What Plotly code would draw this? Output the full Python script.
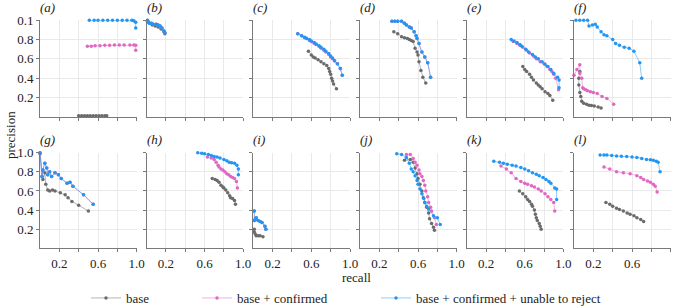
import plotly.graph_objects as go

# ---------------- data (recall, precision) ----------------
panel_labels = ["(a)", "(b)", "(c)", "(d)", "(e)", "(f)", "(g)", "(h)", "(i)", "(j)", "(k)", "(l)"]
series_names = ["base", "base + confirmed", "base + confirmed + unable to reject"]
x_tick_vals = [0.2, 0.4, 0.6, 0.8, 1.0]
x_tick_text = ["0.2", "", "0.6", "", "1.0"]
y_tick_vals = [0.2, 0.4, 0.6, 0.8, 1.0]
y_tick_text_top = ["0.2", "0.4", "0.6", "0.8", "0.1"]
y_tick_text_bottom = ["0.2", "0.4", "0.6", "0.8", "1.0"]

a_base_r = [0.40, 0.43, 0.46, 0.49, 0.52, 0.55, 0.58, 0.61, 0.64, 0.67, 0.69]
a_base_p = [0.01, 0.01, 0.01, 0.01, 0.01, 0.01, 0.01, 0.01, 0.01, 0.01, 0.01]
a_conf_r = [0.49, 0.53, 0.57, 0.62, 0.67, 0.72, 0.77, 0.82, 0.87, 0.93, 0.97, 0.99, 0.99]
a_conf_p = [0.73, 0.73, 0.735, 0.735, 0.74, 0.74, 0.745, 0.745, 0.745, 0.745, 0.745, 0.74, 0.69]
a_unab_r = [0.51, 0.56, 0.60, 0.65, 0.70, 0.75, 0.80, 0.85, 0.90, 0.95, 0.97, 0.99, 0.99]
a_unab_p = [1.0, 1.0, 1.0, 1.0, 1.0, 1.0, 1.0, 1.0, 1.0, 1.0, 0.995, 0.98, 0.92]

b_base_r = [0.01, 0.03, 0.06, 0.09, 0.12, 0.15, 0.18, 0.19]
b_base_p = [0.99, 0.97, 0.95, 0.94, 0.93, 0.91, 0.88, 0.86]
b_conf_r = [0.01, 0.02, 0.03, 0.05, 0.07, 0.10, 0.12, 0.14, 0.16, 0.18, 0.19]
b_conf_p = [1.0, 0.98, 0.97, 0.97, 0.96, 0.96, 0.95, 0.94, 0.92, 0.89, 0.87]
b_unab_r = [0.01, 0.02, 0.03, 0.05, 0.07, 0.10, 0.12, 0.14, 0.16, 0.18, 0.19]
b_unab_p = [1.0, 0.98, 0.97, 0.97, 0.96, 0.96, 0.95, 0.94, 0.92, 0.89, 0.87]

c_base_r = [0.57, 0.60, 0.62, 0.64, 0.67, 0.70, 0.73, 0.76, 0.78, 0.79, 0.80, 0.81, 0.82, 0.83, 0.86]
c_base_p = [0.68, 0.64, 0.62, 0.61, 0.59, 0.57, 0.55, 0.53, 0.50, 0.47, 0.44, 0.40, 0.37, 0.34, 0.29]
c_conf_r = [0.46, 0.50, 0.53, 0.55, 0.58, 0.60, 0.63, 0.65, 0.68, 0.70, 0.73, 0.75, 0.78, 0.80, 0.82, 0.84, 0.87, 0.90, 0.92]
c_conf_p = [0.86, 0.84, 0.82, 0.81, 0.79, 0.78, 0.76, 0.75, 0.73, 0.71, 0.69, 0.67, 0.645, 0.62, 0.60, 0.58, 0.55, 0.50, 0.43]
c_unab_r = [0.46, 0.50, 0.53, 0.55, 0.58, 0.60, 0.63, 0.65, 0.68, 0.70, 0.73, 0.75, 0.78, 0.80, 0.82, 0.84, 0.87, 0.90, 0.92]
c_unab_p = [0.86, 0.84, 0.825, 0.815, 0.80, 0.785, 0.77, 0.755, 0.735, 0.72, 0.70, 0.68, 0.655, 0.63, 0.61, 0.58, 0.55, 0.50, 0.43]

d_base_r = [0.35, 0.39, 0.43, 0.46, 0.49, 0.51, 0.53, 0.55, 0.57, 0.59, 0.60, 0.61, 0.63, 0.65, 0.68]
d_base_p = [0.88, 0.86, 0.83, 0.82, 0.81, 0.80, 0.79, 0.78, 0.71, 0.67, 0.64, 0.57, 0.48, 0.41, 0.35]
d_conf_r = [0.33, 0.36, 0.39, 0.43, 0.46, 0.48, 0.51, 0.53, 0.56, 0.58, 0.59, 0.61, 0.64, 0.67, 0.70, 0.73]
d_conf_p = [0.99, 0.99, 0.99, 0.99, 0.97, 0.95, 0.93, 0.92, 0.88, 0.84, 0.81, 0.76, 0.67, 0.62, 0.56, 0.41]
d_unab_r = [0.33, 0.36, 0.39, 0.43, 0.46, 0.48, 0.51, 0.53, 0.56, 0.58, 0.59, 0.61, 0.64, 0.67, 0.70, 0.73]
d_unab_p = [0.99, 0.99, 0.99, 0.99, 0.97, 0.95, 0.93, 0.92, 0.88, 0.84, 0.81, 0.76, 0.67, 0.62, 0.56, 0.41]

e_base_r = [0.58, 0.60, 0.62, 0.65, 0.67, 0.69, 0.72, 0.74, 0.76, 0.78, 0.81, 0.84, 0.86, 0.89]
e_base_p = [0.52, 0.49, 0.47, 0.44, 0.41, 0.38, 0.35, 0.33, 0.31, 0.29, 0.26, 0.24, 0.22, 0.17]
e_conf_r = [0.48, 0.52, 0.55, 0.58, 0.62, 0.65, 0.69, 0.72, 0.76, 0.80, 0.83, 0.86, 0.88, 0.90, 0.92, 0.95]
e_conf_p = [0.78, 0.76, 0.74, 0.72, 0.69, 0.66, 0.63, 0.60, 0.57, 0.55, 0.52, 0.49, 0.47, 0.44, 0.40, 0.28]
e_unab_r = [0.46, 0.49, 0.52, 0.55, 0.57, 0.61, 0.64, 0.68, 0.71, 0.74, 0.78, 0.81, 0.84, 0.87, 0.90, 0.94, 0.955, 0.955]
e_unab_p = [0.80, 0.785, 0.77, 0.75, 0.73, 0.70, 0.67, 0.645, 0.62, 0.60, 0.57, 0.545, 0.52, 0.49, 0.45, 0.41, 0.38, 0.30]

f_base_r = [0.06, 0.05, 0.05, 0.06, 0.07, 0.08, 0.10, 0.13, 0.155, 0.18, 0.21, 0.25, 0.28]
f_base_p = [0.47, 0.40, 0.33, 0.25, 0.21, 0.16, 0.14, 0.13, 0.12, 0.115, 0.11, 0.10, 0.09]
f_conf_r = [0.0, 0.03, 0.06, 0.06, 0.08, 0.09, 0.10, 0.12, 0.14, 0.17, 0.20, 0.24, 0.29, 0.34, 0.41]
f_conf_p = [0.43, 0.49, 0.54, 0.45, 0.40, 0.30, 0.29, 0.28, 0.27, 0.26, 0.25, 0.24, 0.21, 0.19, 0.13]
f_unab_r = [0.02, 0.06, 0.10, 0.14, 0.155, 0.19, 0.22, 0.24, 0.28, 0.31, 0.34, 0.40, 0.43, 0.47, 0.52, 0.57, 0.62, 0.68, 0.70]
f_unab_p = [1.0, 1.0, 1.0, 1.0, 0.94, 0.95, 0.96, 0.93, 0.88, 0.85, 0.84, 0.80, 0.76, 0.74, 0.72, 0.71, 0.68, 0.56, 0.40]

g_base_r = [0.0, 0.03, 0.05, 0.06, 0.08, 0.10, 0.13, 0.155, 0.21, 0.26, 0.29, 0.33, 0.40, 0.50]
g_base_p = [0.99, 0.72, 0.79, 0.67, 0.61, 0.60, 0.61, 0.60, 0.58, 0.56, 0.53, 0.49, 0.45, 0.39]
g_conf_r = [0.0, 0.02, 0.03, 0.05, 0.07, 0.08, 0.10, 0.12, 0.155, 0.19, 0.22, 0.28, 0.31, 0.34, 0.45, 0.55]
g_conf_p = [1.0, 0.75, 0.82, 0.89, 0.84, 0.77, 0.80, 0.75, 0.79, 0.77, 0.73, 0.68, 0.69, 0.65, 0.56, 0.46]
g_unab_r = [0.0, 0.02, 0.03, 0.05, 0.07, 0.08, 0.10, 0.12, 0.155, 0.19, 0.22, 0.28, 0.31, 0.34, 0.45, 0.55]
g_unab_p = [1.0, 0.75, 0.82, 0.89, 0.84, 0.77, 0.80, 0.75, 0.79, 0.77, 0.73, 0.68, 0.69, 0.65, 0.56, 0.46]

h_base_r = [0.68, 0.71, 0.73, 0.75, 0.77, 0.79, 0.80, 0.82, 0.84, 0.86, 0.87, 0.89, 0.91, 0.92]
h_base_p = [0.73, 0.72, 0.71, 0.69, 0.66, 0.64, 0.63, 0.61, 0.58, 0.55, 0.53, 0.52, 0.50, 0.46]
h_conf_r = [0.63, 0.67, 0.70, 0.72, 0.74, 0.75, 0.77, 0.79, 0.81, 0.83, 0.85, 0.87, 0.89, 0.91, 0.93, 0.94]
h_conf_p = [0.955, 0.945, 0.93, 0.90, 0.87, 0.85, 0.83, 0.82, 0.80, 0.78, 0.77, 0.75, 0.74, 0.73, 0.70, 0.63]
h_unab_r = [0.53, 0.57, 0.60, 0.64, 0.67, 0.70, 0.73, 0.76, 0.80, 0.83, 0.855, 0.88, 0.91, 0.935, 0.95, 0.95]
h_unab_p = [1.0, 0.995, 0.99, 0.98, 0.97, 0.96, 0.955, 0.945, 0.93, 0.915, 0.90, 0.895, 0.89, 0.87, 0.83, 0.77]

i_base_r = [0.01, 0.01, 0.02, 0.03, 0.05, 0.07, 0.10]
i_base_p = [0.20, 0.17, 0.15, 0.13, 0.13, 0.13, 0.12]
i_conf_r = [0.01, 0.01, 0.02, 0.03, 0.05, 0.07, 0.09, 0.12, 0.13]
i_conf_p = [0.39, 0.29, 0.30, 0.32, 0.29, 0.28, 0.27, 0.23, 0.20]
i_unab_r = [0.01, 0.01, 0.02, 0.03, 0.05, 0.07, 0.09, 0.12, 0.13]
i_unab_p = [0.39, 0.29, 0.30, 0.32, 0.29, 0.28, 0.27, 0.23, 0.20]

j_base_r = [0.46, 0.52, 0.55, 0.57, 0.59, 0.60, 0.62, 0.64, 0.655, 0.67, 0.69, 0.71, 0.72, 0.74, 0.76, 0.77]
j_base_p = [0.92, 0.93, 0.90, 0.84, 0.78, 0.73, 0.67, 0.60, 0.53, 0.48, 0.43, 0.37, 0.31, 0.26, 0.22, 0.19]
j_conf_r = [0.48, 0.52, 0.55, 0.57, 0.59, 0.61, 0.62, 0.64, 0.655, 0.67, 0.68, 0.70, 0.71, 0.73, 0.74, 0.77, 0.79]
j_conf_p = [0.98, 0.98, 0.94, 0.90, 0.87, 0.82, 0.78, 0.75, 0.71, 0.66, 0.60, 0.54, 0.48, 0.43, 0.39, 0.32, 0.25]
j_unab_r = [0.38, 0.43, 0.48, 0.51, 0.53, 0.55, 0.57, 0.59, 0.60, 0.62, 0.64, 0.66, 0.67, 0.69, 0.71, 0.76, 0.80, 0.83]
j_unab_p = [0.99, 0.98, 0.95, 0.89, 0.83, 0.80, 0.76, 0.71, 0.67, 0.62, 0.57, 0.52, 0.48, 0.44, 0.41, 0.34, 0.32, 0.25]

k_base_r = [0.545, 0.58, 0.61, 0.63, 0.65, 0.67, 0.68, 0.70, 0.71, 0.72, 0.73, 0.75, 0.76, 0.77]
k_base_p = [0.60, 0.57, 0.54, 0.51, 0.49, 0.46, 0.44, 0.40, 0.355, 0.32, 0.29, 0.26, 0.23, 0.20]
k_conf_r = [0.355, 0.41, 0.46, 0.51, 0.56, 0.60, 0.63, 0.67, 0.70, 0.74, 0.77, 0.81, 0.84, 0.87, 0.90, 0.91]
k_conf_p = [0.86, 0.83, 0.79, 0.73, 0.70, 0.68, 0.67, 0.655, 0.64, 0.62, 0.60, 0.57, 0.54, 0.51, 0.48, 0.39]
k_unab_r = [0.28, 0.34, 0.38, 0.42, 0.47, 0.51, 0.56, 0.60, 0.64, 0.68, 0.72, 0.75, 0.79, 0.82, 0.85, 0.87, 0.91, 0.93, 0.93]
k_unab_p = [0.91, 0.90, 0.89, 0.88, 0.87, 0.86, 0.845, 0.83, 0.81, 0.79, 0.775, 0.76, 0.74, 0.72, 0.70, 0.68, 0.63, 0.62, 0.51]

l_base_r = [0.33, 0.37, 0.40, 0.44, 0.47, 0.51, 0.55, 0.58, 0.62, 0.65, 0.69, 0.72]
l_base_p = [0.48, 0.46, 0.44, 0.42, 0.405, 0.39, 0.37, 0.355, 0.34, 0.32, 0.30, 0.28]
l_conf_r = [0.31, 0.37, 0.44, 0.51, 0.58, 0.65, 0.69, 0.72, 0.76, 0.79, 0.82, 0.84, 0.86]
l_conf_p = [0.85, 0.83, 0.80, 0.79, 0.78, 0.76, 0.74, 0.72, 0.705, 0.69, 0.67, 0.65, 0.59]
l_unab_r = [0.27, 0.31, 0.34, 0.39, 0.44, 0.49, 0.545, 0.60, 0.65, 0.70, 0.75, 0.79, 0.82, 0.85, 0.87, 0.89]
l_unab_p = [0.976, 0.976, 0.975, 0.97, 0.966, 0.963, 0.96, 0.955, 0.95, 0.94, 0.93, 0.925, 0.92, 0.91, 0.90, 0.80]

panels = [
    (a_base_r, a_base_p, a_conf_r, a_conf_p, a_unab_r, a_unab_p),
    (b_base_r, b_base_p, b_conf_r, b_conf_p, b_unab_r, b_unab_p),
    (c_base_r, c_base_p, c_conf_r, c_conf_p, c_unab_r, c_unab_p),
    (d_base_r, d_base_p, d_conf_r, d_conf_p, d_unab_r, d_unab_p),
    (e_base_r, e_base_p, e_conf_r, e_conf_p, e_unab_r, e_unab_p),
    (f_base_r, f_base_p, f_conf_r, f_conf_p, f_unab_r, f_unab_p),
    (g_base_r, g_base_p, g_conf_r, g_conf_p, g_unab_r, g_unab_p),
    (h_base_r, h_base_p, h_conf_r, h_conf_p, h_unab_r, h_unab_p),
    (i_base_r, i_base_p, i_conf_r, i_conf_p, i_unab_r, i_unab_p),
    (j_base_r, j_base_p, j_conf_r, j_conf_p, j_unab_r, j_unab_p),
    (k_base_r, k_base_p, k_conf_r, k_conf_p, k_unab_r, k_unab_p),
    (l_base_r, l_base_p, l_conf_r, l_conf_p, l_unab_r, l_unab_p),
]

# ---------------- styling / layout ----------------
W, H = 678, 308
marker_colors = ["#6b6b6b", "#e067c3", "#2196f3"]
line_colors = ["rgba(107,107,107,0.5)", "rgba(224,103,195,0.5)", "rgba(33,150,243,0.5)"]
legend_ids = ["legend", "legend2", "legend3"]
FONT = "Liberation Serif"
FS = 13

col_left_px = [40, 146.5, 253.3, 360, 466.7, 574]
col_w_px = 96.7
row_y_px = [(20.3, 116.7), (152.7, 248.3)]  # (top of 1.0, bottom at 0)

fig = go.Figure()
layout = dict(
    width=W, height=H,
    margin=dict(l=0, r=0, t=0, b=0, pad=0, autoexpand=False),
    paper_bgcolor="white", plot_bgcolor="white",
    font=dict(family=FONT, size=FS, color="#222"),
    annotations=[],
)

for idx in range(12):
    row, col = divmod(idx, 6)
    n = idx + 1
    xa = "xaxis" if n == 1 else f"xaxis{n}"
    ya = "yaxis" if n == 1 else f"yaxis{n}"
    xref = "x" if n == 1 else f"x{n}"
    yref = "y" if n == 1 else f"y{n}"
    x0 = col_left_px[col] / W
    x1 = (col_left_px[col] + col_w_px) / W
    top, bot = row_y_px[row]
    y0 = 1 - bot / H
    y1 = 1 - top / H
    layout[xa] = dict(
        domain=[x0, x1], anchor=yref, range=[0, 1],
        tickvals=x_tick_vals, ticktext=x_tick_text if row == 1 else [""] * 5,
        showgrid=True, gridcolor="#e9e9e9", gridwidth=1,
        showline=True, linecolor="#7a7a7a", linewidth=1,
        ticks="outside", ticklen=3, tickcolor="#7a7a7a",
        zeroline=False, fixedrange=True, automargin=False,
        tickfont=dict(family=FONT, size=FS, color="#222"),
    )
    layout[ya] = dict(
        domain=[y0, y1], anchor=xref, range=[0, 1],
        tickvals=y_tick_vals,
        ticktext=(y_tick_text_top if row == 0 else y_tick_text_bottom) if col == 0 else [""] * 5,
        showgrid=True, gridcolor="#e9e9e9", gridwidth=1,
        showline=True, linecolor="#7a7a7a", linewidth=1,
        ticks="outside", ticklen=3, tickcolor="#7a7a7a",
        zeroline=False, fixedrange=True, automargin=False,
        tickfont=dict(family=FONT, size=FS, color="#222"),
    )
    layout["annotations"].append(dict(
        text=f"<i>{panel_labels[idx]}</i>", xref="paper", yref="paper",
        x=(col_left_px[col] - 2) / W, y=1 - (top - 13) / H,
        xanchor="left", yanchor="middle", showarrow=False,
        font=dict(family=FONT, size=FS, color="#222"),
    ))
    data = panels[idx]
    for s in range(3):
        fig.add_trace(go.Scatter(
            x=data[2 * s], y=data[2 * s + 1], mode="lines+markers",
            xaxis=xref, yaxis=yref, name=series_names[s],
            line=dict(color=line_colors[s], width=1),
            marker=dict(color=marker_colors[s], size=3.5),
            cliponaxis=False,
            showlegend=(idx == 0), legend=legend_ids[s],
        ))

layout["annotations"].append(dict(
    text="recall", xref="paper", yref="paper", x=356 / W, y=1 - 277 / H,
    xanchor="center", yanchor="middle", showarrow=False,
    font=dict(family=FONT, size=FS, color="#222")))
layout["annotations"].append(dict(
    text="precision", xref="paper", yref="paper", x=10 / W, y=1 - 135 / H,
    xanchor="center", yanchor="middle", showarrow=False, textangle=-90,
    font=dict(family=FONT, size=FS, color="#222")))

leg_x_px = [86, 197, 376]
for s, lid in enumerate(legend_ids):
    layout[lid] = dict(
        x=leg_x_px[s] / W, y=1 - 298 / H, xanchor="left", yanchor="middle",
        orientation="h", bgcolor="rgba(0,0,0,0)", borderwidth=0,
        font=dict(family=FONT, size=FS, color="#222"),
    )

fig.update_layout(**layout)
fig.write_html(
    "out.html",
    config={"displayModeBar": False, "staticPlot": True},
    post_script="document.body.style.margin='0';document.body.style.padding='0';",
)
